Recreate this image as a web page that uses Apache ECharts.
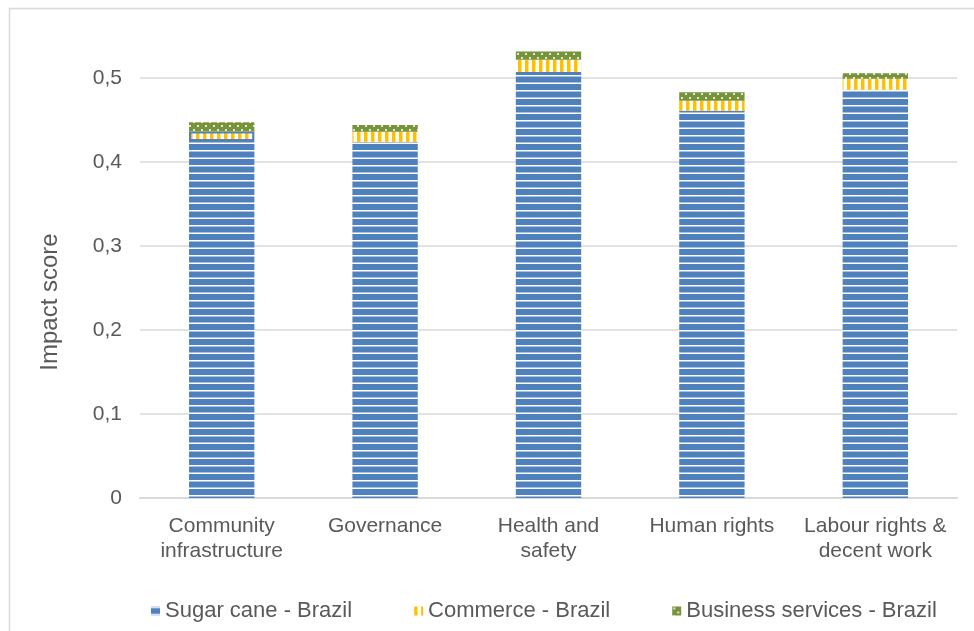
<!DOCTYPE html>
<html>
<head>
<meta charset="utf-8">
<script src="https://cdn.jsdelivr.net/npm/echarts@6/dist/echarts.min.js"></script>
<style>html,body{margin:0;padding:0;background:#fff}#c{width:974px;height:631px}</style>
</head>
<body>
<div id="c"></div>
<script>
const categories = ['Community\ninfrastructure', 'Governance', 'Health and\nsafety', 'Human rights', 'Labour rights &\ndecent work'];
const seriesNames = ['Sugar cane - Brazil', 'Commerce - Brazil', 'Business services - Brazil'];
const sugarCane = [0.425, 0.424, 0.507, 0.461, 0.486];
const commerce = [0.0113, 0.012, 0.0147, 0.012, 0.013];
const businessServices = [0.011, 0.008, 0.0099, 0.010, 0.0068];
const yTicks = [0, 0.1, 0.2, 0.3, 0.4, 0.5];

function makePattern(w, h, draw) {
  const c = document.createElement('canvas');
  c.width = w; c.height = h;
  const ctx = c.getContext('2d');
  draw(ctx);
  return { image: c, repeat: 'repeat' };
}
const blue = '#4f81bd', yellow = '#ffc000', green = '#77933c';
const bluePat = makePattern(4, 15, ctx => {
  ctx.fillStyle = blue; ctx.fillRect(0, 0, 4, 15);
  ctx.fillStyle = '#ffffff'; ctx.fillRect(0, 0, 4, 1.5); ctx.fillRect(0, 7.5, 4, 1.5);
});
const yellowPat = makePattern(7, 4, ctx => {
  ctx.fillStyle = '#ffffff'; ctx.fillRect(0, 0, 7, 4);
  ctx.fillStyle = yellow; ctx.fillRect(0, 0, 3.5, 4);
});
const greenPat = makePattern(8, 8, ctx => {
  ctx.fillStyle = green; ctx.fillRect(0, 0, 8, 8);
  ctx.fillStyle = '#dfe8cf'; ctx.fillRect(1, 1, 2, 2); ctx.fillRect(5, 5, 2, 2);
});

const txt = '#595959';
const font = 'Liberation Sans, Arial, sans-serif';
const chart = echarts.init(document.getElementById('c'), null, {renderer: 'canvas'});
chart.setOption({
  animation: false,
  backgroundColor: '#fff',
  graphic: [{
    type: 'rect', shape: {x: 9.5, y: 8.5, width: 1000, height: 700},
    style: {fill: 'none', stroke: '#d9d9d9', lineWidth: 1.5}, silent: true, z: -1
  }, {
    type: 'text', x: 50, y: 302, rotation: Math.PI / 2, silent: true,
    style: {text: 'Impact score', fill: txt, font: '24px Liberation Sans, Arial, sans-serif', textAlign: 'center', textVerticalAlign: 'middle'}
  }],
  grid: {left: 140, right: 17, top: 36, bottom: 133, containLabel: false},
  legend: {
    data: seriesNames, left: 146, top: 595, itemWidth: 9, itemHeight: 9, itemGap: 62,
    icon: 'rect',
    textStyle: {color: txt, fontSize: 22, fontFamily: font, padding: [0, 0, 0, 0]}
  },
  xAxis: {
    type: 'category', data: categories,
    axisLine: {lineStyle: {color: '#d9d9d9', width: 2}},
    axisTick: {show: false},
    axisLabel: {color: txt, fontSize: 21, fontFamily: font, lineHeight: 25, margin: 16, interval: 0}
  },
  yAxis: {
    type: 'value', min: 0, max: 0.55, interval: 0.1,
    axisLine: {show: false}, axisTick: {show: false},
    splitLine: {show: false},
    axisLabel: {
      color: txt, fontSize: 21, fontFamily: font, margin: 18,
      formatter: v => {
        const t = yTicks.find(x => Math.abs(x - v) < 1e-9);
        if (t === undefined) return '';
        return t === 0 ? '0' : String(t).replace('.', ',');
      }
    }
  },
  series: [
    {name: seriesNames[0], type: 'bar', stack: 's', barWidth: '40%', data: sugarCane, itemStyle: {color: bluePat},
     markLine: {silent: true, symbol: 'none', label: {show: false}, z: 0,
       lineStyle: {color: '#d9d9d9', width: 1.5, type: 'solid'},
       data: yTicks.filter(t => t > 0).map(t => ({yAxis: t}))}},
    {name: seriesNames[1], type: 'bar', stack: 's', data: commerce.map((v, i) => i === 0 ? {value: v, itemStyle: {color: yellowPat, borderColor: blue, borderWidth: 2}} : v), itemStyle: {color: yellowPat}},
    {name: seriesNames[2], type: 'bar', stack: 's', data: businessServices, itemStyle: {color: greenPat}}
  ]
});
</script>
</body>
</html>
